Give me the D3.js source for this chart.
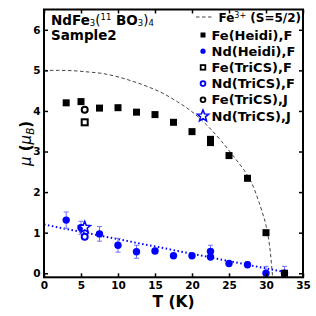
<!DOCTYPE html>
<html><head><meta charset="utf-8">
<script src="https://cdn.jsdelivr.net/npm/d3@7"></script>
<style>
body{margin:0;background:#fff;}
text{font-family:"DejaVu Sans",sans-serif;}
</style></head>
<body><svg id="c" width="316" height="316"></svg>
<script>
// ---- data ----
const xTicks = [0,5,10,15,20,25,30,35];
const yTicks = [0,1,2,3,4,5,6];
const feCurveT = [0,2,4,6,8,10,12,14,16,18,20,22,24,26,27,28,29,29.5,30,30.3,30.6,30.8,30.9];
const feCurveMu = [5.0,5.0,4.99,4.96,4.92,4.84,4.73,4.6,4.44,4.23,3.98,3.65,3.25,2.79,2.55,2.25,1.78,1.5,1.18,0.9,0.5,0.1,-0.1];
const feHeidiT = [3,5,7.5,10,12.5,15,17.5,20,22.5,22.5,25,27.5,30,32.5];
const feHeidiMu = [4.2,4.23,4.07,4.08,3.97,3.91,3.72,3.49,3.3,3.22,2.9,2.34,1.0,0.0];
const ndHeidiT = [3,5,7.5,10,12.5,15,17.5,20,22.5,22.5,25,27.5,30,32.5];
const ndHeidiMu = [1.31,1.12,0.97,0.69,0.53,0.55,0.43,0.43,0.54,0.40,0.24,0.21,0.0,0.0];
const ndHeidiErr = [0.2,0.16,0.18,0.17,0.16,0.03,0.03,0.03,0.15,0.03,0.04,0.07,0.17,0.17];
const feTricsFT = [5.5], feTricsFMu = [3.72];
const ndTricsFT = [5.5], ndTricsFMu = [0.9];
const feTricsJT = [5.5], feTricsJMu = [4.03];
const ndTricsJT = [5.5], ndTricsJMu = [1.13];
const ndFitT = [0,32.5], ndFitMu = [1.2,0.03];
const legendLabels = ["Fe(Heidi),F","Nd(Heidi),F","Fe(TriCS),F","Nd(TriCS),F","Fe(TriCS),J","Nd(TriCS),J"];

const svg = d3.select("#c");
const L=44, R=303, T=9.5, B=277.3;
const x = d3.scaleLinear().domain([0,35]).range([L,R]);
const y = d3.scaleLinear().domain([-0.1,6.5]).range([B,T]);
const blue="#0000ff";

svg.append("clipPath").attr("id","cl").append("rect")
  .attr("x",L).attr("y",T).attr("width",R-L).attr("height",B-T);
const g = svg.append("g").attr("clip-path","url(#cl)");

// Fe curve
g.append("path").datum(feCurveT.map((t,i)=>[t,feCurveMu[i]]))
  .attr("d", d3.line().x(d=>x(d[0])).y(d=>y(d[1])).curve(d3.curveMonotoneX))
  .attr("fill","none").attr("stroke","#444").attr("stroke-width",1).attr("stroke-dasharray","3.5,2.5");
// Nd fit
g.append("path").datum(ndFitT.map((t,i)=>[t,ndFitMu[i]]))
  .attr("d", d3.line().x(d=>x(d[0])).y(d=>y(d[1])))
  .attr("fill","none").attr("stroke",blue).attr("stroke-width",2).attr("stroke-dasharray","1.5,2.5");

// error bars
const eb = g.append("g").attr("stroke","#7070ff").attr("stroke-width",1);
ndHeidiT.forEach((t,i)=>{
  const cx=x(t), y1=y(ndHeidiMu[i]-ndHeidiErr[i]), y2=y(ndHeidiMu[i]+ndHeidiErr[i]);
  eb.append("line").attr("x1",cx).attr("x2",cx).attr("y1",y1).attr("y2",y2);
  eb.append("line").attr("x1",cx-2.5).attr("x2",cx+2.5).attr("y1",y1).attr("y2",y1);
  eb.append("line").attr("x1",cx-2.5).attr("x2",cx+2.5).attr("y1",y2).attr("y2",y2);
});

// markers
function marker(sel, type, cx, cy){
  if(type==="fsq") sel.append("rect").attr("x",cx-3.5).attr("y",cy-3.5).attr("width",7).attr("height",7).attr("fill","#000");
  if(type==="fci") sel.append("circle").attr("cx",cx).attr("cy",cy).attr("r",3.7).attr("fill",blue);
  if(type==="osq") sel.append("rect").attr("x",cx-3).attr("y",cy-3).attr("width",6).attr("height",6).attr("fill","none").attr("stroke","#000").attr("stroke-width",2);
  if(type==="oci") sel.append("circle").attr("cx",cx).attr("cy",cy).attr("r",3).attr("fill","none").attr("stroke",blue).attr("stroke-width",2);
  if(type==="ocik") sel.append("circle").attr("cx",cx).attr("cy",cy).attr("r",3).attr("fill","none").attr("stroke","#000").attr("stroke-width",2);
  if(type==="star"){
    const pts=[];
    for(let k=0;k<10;k++){const r=k%2?2.6:6; const a=-Math.PI/2+k*Math.PI/5; pts.push([cx+r*Math.cos(a),cy+r*Math.sin(a)]);}
    sel.append("polygon").attr("points",pts.map(p=>p.join(",")).join(" ")).attr("fill","#fff").attr("stroke",blue).attr("stroke-width",1.5);
  }
}
const mk = g.append("g");
ndHeidiT.forEach((t,i)=>marker(mk,"fci",x(t),y(ndHeidiMu[i])));
feHeidiT.forEach((t,i)=>marker(mk,"fsq",x(t),y(feHeidiMu[i])));
feTricsFT.forEach((t,i)=>marker(mk,"osq",x(t),y(feTricsFMu[i])));
ndTricsJT.forEach((t,i)=>marker(mk,"star",x(t),y(ndTricsJMu[i])));
ndTricsFT.forEach((t,i)=>marker(mk,"oci",x(t),y(ndTricsFMu[i])));
feTricsJT.forEach((t,i)=>marker(mk,"ocik",x(t),y(feTricsJMu[i])));

// axes
const tl=4;
const ax = svg.append("g");
const fmt = d3.format("d");
ax.append("g").attr("transform",`translate(0,${B})`)
  .call(d3.axisBottom(x).tickValues(xTicks).tickSize(-tl).tickPadding(4).tickFormat(fmt));
ax.append("g").attr("transform",`translate(0,${T})`)
  .call(d3.axisTop(x).tickValues(xTicks).tickSize(-tl).tickFormat(""));
ax.append("g").attr("transform",`translate(${L},0)`)
  .call(d3.axisLeft(y).tickValues(yTicks).tickSize(-tl).tickPadding(3.5).tickFormat(fmt));
ax.append("g").attr("transform",`translate(${R},0)`)
  .call(d3.axisRight(y).tickValues(yTicks).tickSize(-tl).tickFormat(""));
ax.selectAll(".domain").remove();
ax.selectAll(".tick line").attr("stroke","#000").attr("stroke-width",1.5);
ax.selectAll(".tick text").attr("font-size",10.5).attr("font-weight","bold").attr("fill","#000").style("font-family","DejaVu Sans");
svg.append("rect").attr("x",L).attr("y",T).attr("width",R-L).attr("height",B-T)
  .attr("fill","none").attr("stroke","#000").attr("stroke-width",2);

// axis labels
svg.append("text").attr("x",(L+R)/2).attr("y",306.5).attr("text-anchor","middle")
  .attr("font-size",15.5).attr("font-weight","bold").text("T (K)");
const yl = svg.append("text").attr("transform",`translate(31,${(T+B)/2}) rotate(-90)`)
  .attr("text-anchor","middle").attr("font-size",15);
yl.append("tspan").attr("font-style","italic").text("μ");
yl.append("tspan").attr("font-weight","bold").text(" (");
yl.append("tspan").attr("font-style","italic").text("μ");
yl.append("tspan").attr("font-style","italic").attr("font-size",10.5).attr("dy",3).text("B");
yl.append("tspan").attr("font-weight","bold").attr("dy",-3).text(")");

// title
const t1 = svg.append("text").attr("x",51).attr("y",24.5).attr("font-size",13.5).attr("font-weight","bold");
t1.append("tspan").text("NdFe");
t1.append("tspan").attr("font-weight","normal").attr("font-size",8.5).attr("dy",1.5).text("3");
t1.append("tspan").attr("font-weight","normal").attr("dy",-1.5).text("(");
t1.append("tspan").attr("font-weight","normal").attr("font-size",8.5).attr("dy",-5).text("11");
t1.append("tspan").attr("dy",5).text(" BO");
t1.append("tspan").attr("font-weight","normal").attr("font-size",8.5).attr("dy",1.5).text("3");
t1.append("tspan").attr("font-weight","normal").attr("dy",-1.5).text(")");
t1.append("tspan").attr("font-weight","normal").attr("font-size",8.5).attr("dy",1.5).text("4");
svg.append("text").attr("x",51).attr("y",39.5).attr("font-size",13.5).attr("font-weight","bold").text("Sample2");

// legend
const lg = svg.append("g");
lg.append("line").attr("x1",196).attr("x2",213).attr("y1",17).attr("y2",17)
  .attr("stroke","#444").attr("stroke-width",1).attr("stroke-dasharray","3.5,2.5");
const lt0 = lg.append("text").attr("x",218.5).attr("y",21.5).attr("font-size",12).attr("font-weight","bold");
lt0.append("tspan").text("Fe");
lt0.append("tspan").attr("font-weight","normal").attr("font-size",8).attr("dy",-3.5).text("3+");
lt0.append("tspan").attr("dy",3.5).text(" (S=5/2)");
const ltypes = ["fsq","fci","osq","oci","ocik","star"];
legendLabels.forEach((lab,i)=>{
  const cy = 35 + i*16.2;
  const s = lg.append("g");
  if(ltypes[i]==="fsq") s.append("rect").attr("x",200.5).attr("y",cy-2.5).attr("width",5).attr("height",5).attr("fill","#000");
  else if(ltypes[i]==="fci") s.append("circle").attr("cx",203).attr("cy",cy).attr("r",2.6).attr("fill",blue);
  else if(ltypes[i]==="osq") s.append("rect").attr("x",200.7).attr("y",cy-2.3).attr("width",4.6).attr("height",4.6).attr("fill","none").attr("stroke","#000").attr("stroke-width",1.8);
  else if(ltypes[i]==="oci") s.append("circle").attr("cx",203).attr("cy",cy).attr("r",2.4).attr("fill","none").attr("stroke",blue).attr("stroke-width",1.8);
  else if(ltypes[i]==="ocik") s.append("circle").attr("cx",203).attr("cy",cy).attr("r",2.4).attr("fill","none").attr("stroke","#000").attr("stroke-width",1.8);
  else marker(s,"star",203,cy);
  lg.append("text").attr("x",211.5).attr("y",cy+4.6).attr("font-size",13).attr("font-weight","bold").text(lab);
});
</script></body></html>
